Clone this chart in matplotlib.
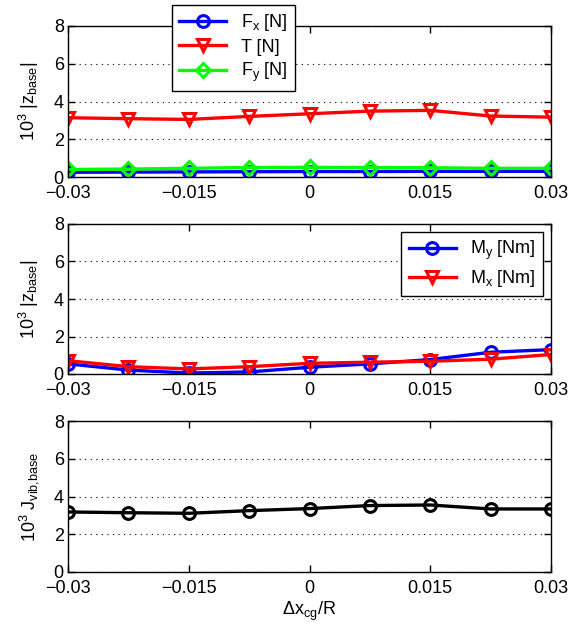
import matplotlib
matplotlib.use("Agg")
import matplotlib.pyplot as plt

plt.rcParams['font.family'] = ['Liberation Sans', 'DejaVu Sans']
plt.rcParams['mathtext.fontset'] = 'custom'
plt.rcParams['mathtext.rm'] = 'Liberation Sans'
plt.rcParams['mathtext.it'] = 'Liberation Sans'
plt.rcParams['mathtext.default'] = 'regular'

# offsets of the centre of gravity
dx_cg = [-0.03, -0.0225, -0.015, -0.0075, 0.0, 0.0075, 0.015, 0.0225, 0.03]
xticks = [-0.03, -0.015, 0, 0.015, 0.03]
xticklabels = ['\u22120.03', '\u22120.015', '0', '0.015', '0.03']

# hub forces (x 10^3)
fx = [0.25, 0.26, 0.27, 0.28, 0.29, 0.29, 0.30, 0.30, 0.30]
thrust = [3.14, 3.09, 3.05, 3.21, 3.35, 3.49, 3.53, 3.23, 3.17]
fy = [0.40, 0.42, 0.46, 0.50, 0.51, 0.50, 0.49, 0.46, 0.46]

# hub moments (x 10^3)
my = [0.54, 0.21, 0.05, 0.11, 0.36, 0.54, 0.77, 1.16, 1.30]
mx = [0.71, 0.39, 0.27, 0.39, 0.57, 0.63, 0.68, 0.79, 1.04]

# vibration index (x 10^3)
j_vib = [3.18, 3.14, 3.11, 3.25, 3.36, 3.52, 3.55, 3.34, 3.34]

fig = plt.figure(figsize=(5.81, 6.28), dpi=100)
W, H = 581.0, 628.0
left, right = 68, 551
panels = [(26, 177), (224, 374), (421, 572)]
axes = []
for top, bot in panels:
    ax = fig.add_axes([left / W, 1 - bot / H, (right - left) / W, (bot - top) / H])
    axes.append(ax)

line_kw = dict(lw=2.4, ms=8.5, mfc='none', mew=2.2)

ax = axes[0]
ax.plot(dx_cg, fx, color=(0, 0, 1), marker='o', label='F$_x$ [N]', **line_kw)
ax.plot(dx_cg, thrust, color=(1, 0, 0), marker='v', label='T [N]', **line_kw)
ax.plot(dx_cg, fy, color=(0, 1, 0), marker='D', label='F$_y$ [N]',
        lw=2.4, ms=7, mfc='none', mew=2.2)
leg = ax.legend(loc='upper left', bbox_to_anchor=(172 / W, 1 - 5 / H),
                bbox_transform=fig.transFigure, borderaxespad=0, fancybox=False,
                edgecolor='black', framealpha=1, fontsize=13, handlelength=2.6,
                labelspacing=0.3, borderpad=0.4)
leg.get_frame().set_linewidth(1.0)

ax = axes[1]
ax.plot(dx_cg, my, color=(0, 0, 1), marker='o', label='M$_y$ [Nm]', **line_kw)
ax.plot(dx_cg, mx, color=(1, 0, 0), marker='v', label='M$_x$ [Nm]', **line_kw)
leg = ax.legend(loc='upper right', bbox_to_anchor=(543 / W, 1 - 232 / H),
                bbox_transform=fig.transFigure, borderaxespad=0, fancybox=False,
                edgecolor='black', framealpha=1, fontsize=13, handlelength=2.6,
                labelspacing=0.3, borderpad=0.4)
leg.get_frame().set_linewidth(1.0)

ax = axes[2]
ax.plot(dx_cg, j_vib, color='black', marker='o', **line_kw)
ax.set_xlabel('\u0394x$_{cg}$/R', fontsize=13, labelpad=2)

ylabels = ['10$^3$ |z$_{base}$|', '10$^3$ |z$_{base}$|', '10$^3$ J$_{vib{,}base}$']
for ax, lab in zip(axes, ylabels):
    ax.set_xlim(-0.03, 0.03)
    ax.set_ylim(0, 8)
    ax.set_xticks(xticks)
    ax.set_xticklabels(xticklabels)
    ax.set_yticks([0, 2, 4, 6, 8])
    ax.tick_params(direction='in', top=True, right=True, labelsize=13,
                   length=5, width=1, pad=3)
    ax.tick_params(axis='x', pad=6)
    ax.yaxis.grid(True, linestyle=(0, (1, 4)), color='black', lw=0.8)
    ax.set_axisbelow(True)
    for s in ax.spines.values():
        s.set_linewidth(1.0)
    ax.set_ylabel(lab, fontsize=13)
    ax.yaxis.set_label_coords(-0.055, 0.5)

fig.savefig('out.png', dpi=100)
